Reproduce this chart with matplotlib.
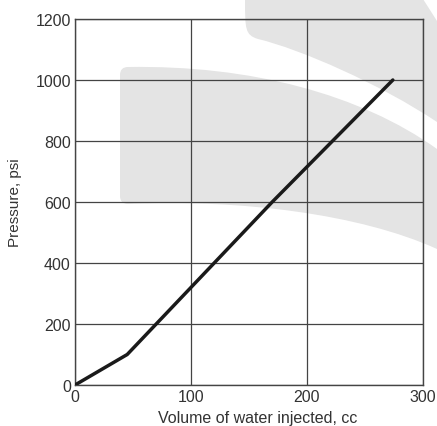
import matplotlib
matplotlib.use("Agg")
import matplotlib.pyplot as plt
from matplotlib.path import Path
from matplotlib.patches import PathPatch

plt.rcParams['font.family'] = ['Liberation Sans', 'DejaVu Sans']

volume_cc = [0, 45, 70, 120, 170, 222, 274]
pressure_psi = [0, 100, 200, 400, 600, 800, 1000]
xticks = [0, 100, 200, 300]
yticks = [0, 200, 400, 600, 800, 1000, 1200]

W, H = 437, 427
fig = plt.figure(figsize=(W / 100, H / 100), dpi=100)

def fp(x, y):
    return (x / W, 1 - y / H)

# watermark shapes (background decoration)
wm = '#e4e4e4'
verts1 = [fp(245, 0), fp(423, 0), fp(437, 22), fp(437, 123), fp(380, 85), fp(300, 50), fp(258, 40),
          fp(245, 36), fp(245, 30), fp(245, 0)]
codes1 = [Path.MOVETO, Path.LINETO, Path.LINETO, Path.LINETO, Path.CURVE4, Path.CURVE4, Path.CURVE4,
          Path.CURVE4, Path.CURVE4, Path.LINETO]
verts2 = [fp(128, 68), fp(250, 66), fp(360, 95), fp(437, 150), fp(437, 250),
          fp(360, 215), fp(240, 200), fp(128, 205), fp(120, 205), fp(120, 197),
          fp(120, 76), fp(120, 68), fp(128, 68)]
codes2 = [Path.MOVETO, Path.CURVE4, Path.CURVE4, Path.CURVE4, Path.LINETO,
          Path.CURVE4, Path.CURVE4, Path.CURVE4, Path.CURVE3, Path.CURVE3,
          Path.LINETO, Path.CURVE3, Path.CURVE3]
for v, c in [(verts1, codes1), (verts2, codes2)]:
    p = PathPatch(Path(v, c), transform=fig.transFigure, facecolor=wm, edgecolor='none', zorder=0)
    fig.patches.append(p)

ax = fig.add_axes([75 / W, 1 - 386 / H, (423 - 75) / W, (386 - 20) / H])
ax.set_facecolor('none')
ax.set_zorder(1)

ax.plot(volume_cc, pressure_psi, color='#1a1a1a', lw=2.5, solid_capstyle='round', zorder=3)

ax.set_xlim(0, 300)
ax.set_ylim(0, 1200)
ax.set_xticks(xticks)
ax.set_yticks(yticks)
ax.grid(True, color='#444444', lw=0.9)
for s in ax.spines.values():
    s.set_color('#444444')
    s.set_linewidth(1.0)
ax.tick_params(length=0, labelsize=11.5, labelcolor='#333333', pad=3)
ax.set_xlabel('Volume of water injected, cc', fontsize=11.5, color='#333333')
ax.set_ylabel('Pressure, psi', fontsize=11, color='#333333')
ax.xaxis.set_label_coords(0.526, -0.068)
ax.yaxis.set_label_coords(-0.152, 0.5)

fig.savefig('out.png', dpi=100)
